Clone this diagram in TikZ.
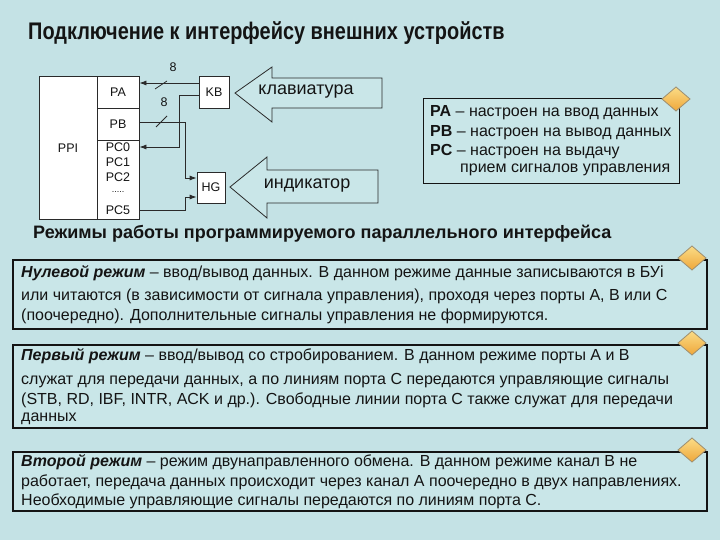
\documentclass[tikz,border=0pt]{standalone}
\usepackage{fontspec}
\setmainfont{Liberation Sans}
\newfontfamily\titlefont[FakeStretch=0.83]{Liberation Sans}
\usetikzlibrary{arrows.meta,shapes.geometric}
\definecolor{bg}{HTML}{C4E2E5}
\definecolor{boxbg}{HTML}{C9E6E8}
\definecolor{ink}{HTML}{141414}
\definecolor{wire}{HTML}{2A2A2A}
\definecolor{gemtop}{HTML}{FBDC86}
\definecolor{gembot}{HTML}{EFA73A}
\definecolor{gemedge}{HTML}{9C8E70}
\tikzset{
  cell/.style={draw=wire, line width=0.8pt, fill=white, inner sep=0pt},
  lbl/.style={font=\fontsize{12.5}{14}\selectfont, text=ink, inner sep=0pt},
  bus/.style={draw=wire, line width=0.8pt},
  busarrow/.style={bus, -{Latex[length=7pt,width=5pt]}},
  tick/.style={draw=wire, line width=0.8pt},
  blockarrow/.style={draw=wire, line width=0.8pt, fill=boxbg},
  bigword/.style={font=\fontsize{18}{21}\selectfont, text=ink, inner sep=0pt},
  modebox/.style={draw=ink, line width=1.8pt, fill=boxbg},
  infobox/.style={draw=ink, line width=1pt, fill=boxbg},
  body/.style={font=\fontsize{16}{19}\selectfont, text=ink, anchor=west, inner sep=0pt},
  info/.style={font=\fontsize{16}{19}\selectfont, text=ink, anchor=west, inner sep=0pt},
  gem/.pic={\shade[top color=gemtop, bottom color=gembot, draw=gemedge, line width=0.8pt]
     (-14,0) -- (0,-12) -- (14,0) -- (0,12) -- cycle;}
}
\begin{document}
\begin{tikzpicture}[x=1pt,y=-1pt]
\fill[bg] (0,0) rectangle (720,540);
\useasboundingbox (0,0) rectangle (720,540);

% title
\node[anchor=west, inner sep=0pt, text=ink, font=\titlefont\bfseries\fontsize{24}{28}\selectfont] (title) at (28,33) {Подключение к интерфейсу внешних устройств};

% PPI block
\node[cell, minimum width=58pt, minimum height=143pt] (ppi) at (68,147.5) {};
\node[lbl] (ppilbl) at (68,148) {PPI};
\node[cell, minimum width=42pt, minimum height=32pt] (pa) at (118,92) {};
\node[lbl] at (118,92) {PA};
\node[cell, minimum width=42pt, minimum height=32pt] (pb) at (118,124) {};
\node[lbl] at (118,124) {PB};
\node[cell, minimum width=42pt, minimum height=79pt] (pc) at (118,179.5) {};
\node[lbl] (pc0) at (118,147) {PC0};
\node[lbl] (pc1) at (118,162) {PC1};
\node[lbl] (pc2) at (118,177) {PC2};
\node[lbl, font=\fontsize{9}{10}\selectfont] (pcd) at (118,192) {.....};
\node[lbl] (pc5) at (118,210) {PC5};

% devices
\node[cell, minimum width=30pt, minimum height=32pt] (kb) at (214,92) {};
\node[lbl] at (214,92) {KB};
\node[cell, minimum width=28pt, minimum height=31pt] (hg) at (211,187.5) {};
\node[lbl] at (211,187.5) {HG};

% connectors
\coordinate (kbA) at (kb.west |- 0,83);
\draw[busarrow] (kbA) -- (kbA -| pa.east);
\draw[tick] (155,89) -- (167,81);
\node[lbl] (n8a) at (173,67) {8};

\coordinate (pbB) at (pb.east |- 0,122);
\coordinate (hgB) at (hg.west |- 0,178);
\draw[busarrow] (pbB) -- (185,122) -- (185,178) -- (hgB);
\draw[tick] (156,127) -- (167,116);
\node[lbl] (n8b) at (164,102) {8};

\coordinate (kbC) at (kb.west |- 0,95);
\coordinate (pcC) at (pc.east |- 0,147);
\draw[busarrow] (kbC) -- (179,95) -- (179,147) -- (pcC);

\coordinate (pcD) at (pc.east |- 0,210);
\coordinate (hgD) at (hg.west |- 0,197);
\draw[busarrow] (pcD) -- (185,210) -- (185,197) -- (hgD);

% block arrows
\draw[blockarrow] (235,93) -- (272,67) -- (272,78) -- (382,78) -- (382,108) -- (272,108) -- (272,122) -- cycle;
\node[bigword] (kbword) at (306,92) {клавиатура};
\draw[blockarrow] (230,187) -- (267,157) -- (267,170) -- (378,170) -- (378,203) -- (267,203) -- (267,218) -- cycle;
\node[bigword] (hgword) at (307,186) {индикатор};

% info box
\draw[infobox] (423,99) rectangle (679,184);
\node[info] (i1) at (430,113) {\textbf{PA} – настроен на ввод данных};
\node[info] (i2) at (430,133) {\textbf{PB} – настроен на вывод данных};
\node[info] (i3) at (430,152) {\textbf{PC} – настроен на выдачу};
\node[info] (i4) at (460,170) {прием сигналов управления};
\pic at (676,99) {gem};

% heading
\node[anchor=west, inner sep=0pt, text=ink, font=\bfseries\fontsize{18}{21}\selectfont] (head) at (33,234) {Режимы работы программируемого параллельного интерфейса};

% mode 0
\draw[modebox] (13,260) rectangle (707,329);
\node[body] (m0a) at (21,273) {\textbf{\textit{Нулевой режим}} – ввод/вывод данных. В данном режиме данные записываются в БУі};
\node[body] (m0b) at (21,296) {или читаются (в зависимости от сигнала управления), проходя через порты А, В или С};
\node[body] (m0c) at (21,316) {(поочередно). Дополнительные сигналы управления не формируются.};
\pic at (692,258) {gem};

% mode 1
\draw[modebox] (13,345) rectangle (707,428);
\node[body] (m1a) at (21,356) {\textbf{\textit{Первый режим}} – ввод/вывод со стробированием. В данном режиме порты А и В};
\node[body] (m1b) at (21,381) {служат для передачи данных, а по линиям порта С передаются управляющие сигналы};
\node[body] (m1c) at (21,400) {(STB, RD, IBF, INTR, ACK и др.). Свободные линии порта С также служат для передачи};
\node[body] (m1d) at (21,419) {данных};
\pic at (692,343) {gem};

% mode 2
\draw[modebox] (13,452) rectangle (707,511);
\node[body] (m2a) at (21,462) {\textbf{\textit{Второй режим}} – режим двунаправленного обмена. В данном режиме канал В не};
\node[body] (m2b) at (21,482) {работает, передача данных происходит через канал А поочередно в двух направлениях.};
\node[body] (m2c) at (21,501) {Необходимые управляющие сигналы передаются по линиям порта С.};
\pic at (692,450) {gem};
\end{tikzpicture}
\end{document}
